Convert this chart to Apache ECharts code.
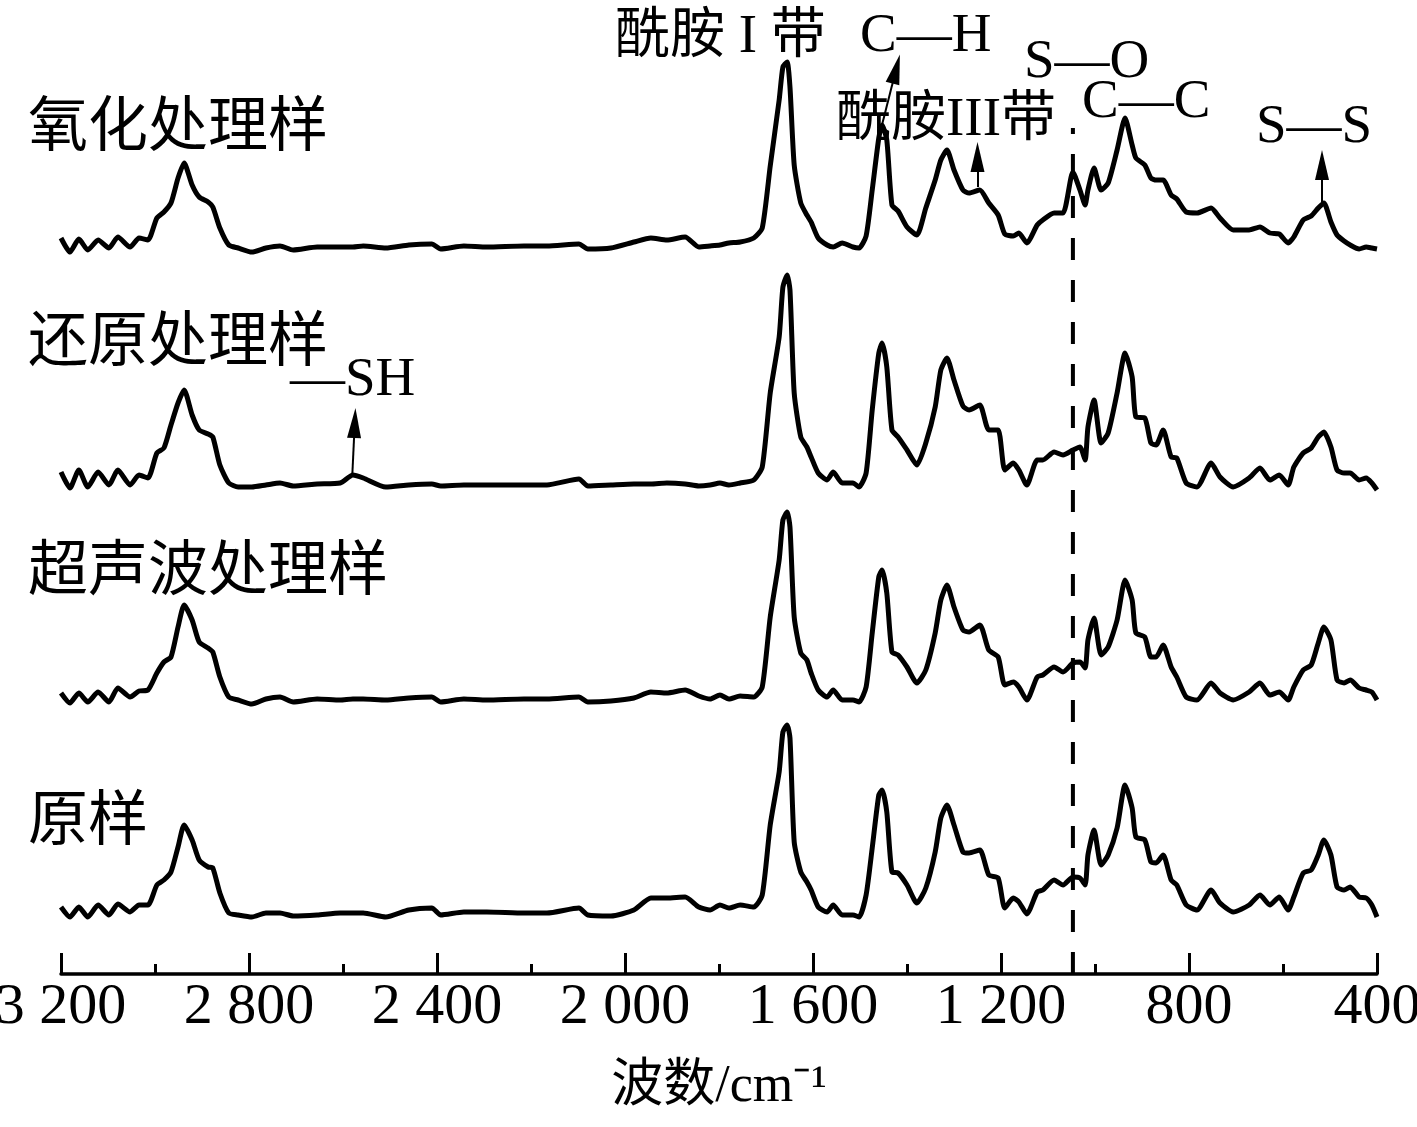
<!DOCTYPE html>
<html>
<head>
<meta charset="utf-8">
<title>拉曼光谱</title>
<script src="https://cdn.jsdelivr.net/npm/echarts@6/dist/echarts.min.js"></script>
<style>
  html, body { margin: 0; padding: 0; background: #fff; }
  #main { width: 1417px; height: 1127px; }
</style>
</head>
<body>
<div id="main"></div>
<script>
// 波数 (cm-1), shared by all four spectra
var waveNumbers = [
  3200, 3181, 3162, 3143, 3121, 3098, 3079, 3053, 3034, 3015,
  2996, 2981, 2966, 2951, 2938, 2921, 2906, 2887, 2877, 2862,
  2843, 2823, 2794, 2764, 2734, 2706, 2655, 2606, 2579, 2557,
  2509, 2460, 2411, 2392, 2343, 2294, 2215, 2166, 2098, 2079,
  2030, 1981, 1945, 1911, 1872, 1843, 1819, 1798, 1779, 1755,
  1726, 1708,
  1691, 1672, 1664, 1655, 1649, 1640, 1626, 1613, 1604, 1589,
  1570, 1557, 1538, 1515, 1502, 1487, 1474, 1460, 1453, 1443,
  1432, 1419, 1400, 1379, 1360, 1340, 1328, 1315, 1300, 1281,
  1268, 1245, 1226, 1206, 1192, 1174, 1162, 1145, 1123, 1111,
  1087, 1068, 1047, 1032, 1021, 1015, 1002, 987, 972, 953,
  936, 921, 913, 894, 881, 870, 855, 838, 826, 806,
  783, 753, 734, 706, 672, 649, 628, 608, 589, 577,
  557, 540, 525, 513, 498, 485, 470, 457, 438, 423,
  411, 400
];

// 强度 (a.u.), each relative to its own baseline
var oxidized = [
  10, -4, 9, -2, 8, 0, 11, 1, 10, 8,
  30, 36, 45, 70, 85, 63, 51, 46, 41, 20,
  3, 0, -4, 0, 2, -2, 1, 1, 1, 2,
  0, 3, 4, -1, 2, 1, 2, 2, 4, -1,
  0, 6, 10, 8, 11, 1, 2, 3, 5, 6,
  10, 20,
  82, 148, 181, 186, 161, 83, 45, 33, 26, 10,
  3, 1, 5, 1, 0, 12, 58, 110, 123, 108,
  43, 37, 21, 13, 40, 68, 88, 98, 78, 58,
  55, 58, 45, 33, 14, 12, 15, 5, 23, 28,
  35, 35, 76, 58, 43, 58, 80, 58, 65, 98,
  130, 103, 90, 83, 70, 68, 68, 53, 49, 36,
  35, 40, 30, 18, 18, 21, 15, 14, 5, 11,
  28, 32, 40, 45, 26, 13, 7, 3, -1, 1,
  0, -1
];
var reduced = [
  15, -1, 17, 0, 15, 2, 17, 2, 12, 9,
  34, 39, 62, 84, 97, 72, 57, 53, 50, 22,
  4, 0, 0, 2, 4, 1, 3, 4, 12, 9,
  0, 2, 3, 1, 2, 2, 2, 2, 8, 1,
  2, 3, 3, 4, 3, 1, 2, 4, 2, 4,
  7, 20,
  94, 150, 200, 212, 197, 94, 50, 40, 30, 14,
  7, 15, 4, 4, 0, 14, 77, 134, 144, 120,
  57, 50, 37, 22, 44, 80, 117, 129, 107, 81,
  77, 82, 57, 57, 17, 24, 17, 2, 27, 27,
  35, 32, 37, 40, 27, 60, 87, 44, 54, 94,
  134, 110, 70, 69, 44, 42, 57, 30, 29, 4,
  0, 24, 10, 0, 9, 19, 7, 12, 2, 20,
  34, 39, 50, 55, 40, 17, 14, 14, 7, 9,
  4, -3
];
var ultrasonic = [
  7, -3, 7, -2, 8, -2, 12, 3, 9, 10,
  27, 38, 43, 73, 95, 80, 58, 52, 48, 23,
  3, 0, -4, 1, 3, -2, 1, 0, 1, 1,
  0, 2, 3, -2, 1, 0, 1, 1, 3, -2,
  -1, 2, 8, 7, 10, 4, 1, 5, 1, 4,
  3, 13,
  83, 140, 180, 188, 173, 83, 47, 40, 27, 10,
  3, 10, 0, 0, -2, 13, 67, 123, 130, 107,
  48, 45, 33, 17, 30, 67, 100, 115, 93, 70,
  68, 75, 50, 43, 15, 18, 13, 0, 23, 25,
  33, 28, 37, 38, 32, 60, 82, 45, 53, 80,
  120, 100, 67, 63, 43, 43, 55, 33, 23, 3,
  0, 17, 7, 0, 8, 17, 5, 8, 0, 13,
  30, 35, 57, 73, 60, 20, 17, 20, 12, 10,
  8, 0
];
var raw = [
  8, -2, 8, -2, 10, 0, 11, 3, 10, 10,
  30, 35, 43, 68, 90, 75, 55, 48, 47, 22,
  2, 0, -2, 2, 2, -1, 0, 2, 2, 2,
  -2, 5, 7, 0, 3, 3, 2, 2, 7, 0,
  -1, 5, 17, 17, 18, 8, 5, 10, 7, 10,
  8, 20,
  90, 143, 183, 190, 177, 73, 43, 33, 25, 8,
  3, 10, 0, 0, -2, 20, 67, 120, 125, 103,
  43, 42, 30, 12, 27, 63, 97, 110, 90, 63,
  62, 65, 40, 37, 7, 17, 13, 1, 23, 25,
  35, 30, 38, 37, 30, 60, 85, 50, 60, 87,
  130, 107, 78, 75, 53, 52, 60, 35, 30, 10,
  5, 25, 12, 3, 10, 20, 10, 18, 5, 18,
  42, 45, 60, 75, 60, 28, 25, 28, 18, 17,
  10, -2
];

var sampleNames = ["氧化处理样", "还原处理样", "超声波处理样", "原样"];
var offsets = [726, 487, 274, 59];
var xTicks = [3200, 2800, 2400, 2000, 1600, 1200, 800, 400];

var serif = "'Liberation Serif', 'Noto Sans CJK SC', serif";

function stack(values, offset) {
  return waveNumbers.map(function(w, i) {
    return [w, values[i] + offset];
  });
}

function fmt(v) {
  var s = String(v);
  return s.length > 3 ? s.slice(0, s.length - 3) + " " + s.slice(-3) : s;
}

function arrow(from, to) {
  return [{ coord: from }, { coord: to }];
}

function label(text, x, y, size) {
  return {
    type: "text",
    x: x,
    y: y,
    style: {
      text: text,
      fontSize: size,
      fontFamily: serif,
      fill: "#000",
      align: "left",
      verticalAlign: "middle"
    }
  };
}

var myChart = echarts.init(document.getElementById("main"));

var spectra = [oxidized, reduced, ultrasonic, raw].map(function(vals, k) {
  return {
    name: sampleNames[k],
    type: "line",
    data: stack(vals, offsets[k]),
    showSymbol: false,
    symbol: "none",
    smooth: 0.2,
    lineStyle: { color: "#000", width: 5, join: "round" },
    z: 3
  };
});

myChart.setOption({
  animation: false,
  backgroundColor: "#fff",
  grid: {
    left: 61,
    right: 40,
    top: 53,
    bottom: 153,
    containLabel: false,
    outerBoundsMode: "none"
  },
  xAxis: {
    type: "value",
    inverse: true,
    min: 400,
    max: 3200,
    interval: 400,
    name: "波数/cm⁻¹",
    nameLocation: "middle",
    nameGap: 87,
    nameTextStyle: { fontSize: 52, fontFamily: serif, color: "#000" },
    axisLine: { lineStyle: { color: "#000", width: 3.5 } },
    axisTick: { inside: true, length: 21, lineStyle: { color: "#000", width: 3 } },
    minorTick: { show: true, splitNumber: 2, length: 10, lineStyle: { color: "#000", width: 3 } },
    splitLine: { show: false },
    axisLabel: {
      margin: 5,
      fontSize: 58,
      fontFamily: serif,
      color: "#000",
      formatter: function(v) {
        return xTicks.indexOf(v) >= 0 ? fmt(v) : "";
      }
    }
  },
  yAxis: {
    type: "value",
    min: 0,
    max: 921,
    show: false
  },
  series: spectra.concat([
    {
      name: "S—O",
      type: "line",
      data: [[1047, 0], [1047, 846]],
      showSymbol: false,
      symbol: "none",
      lineStyle: { color: "#000", width: 4, type: [22, 20] },
      z: 2
    },
    {
      name: "arrows",
      type: "line",
      data: [],
      markLine: {
        silent: true,
        symbol: ["none", "triangle"],
        symbolSize: [14, 30],
        label: { show: false },
        lineStyle: { color: "#000", width: 2, type: "solid" },
        data: [
          arrow([1457, 842], [1423, 905]),
          arrow([1250, 787], [1250, 817]),
          arrow([517, 772], [517, 809]),
          arrow([2580, 501], [2575, 551])
        ]
      }
    }
  ]),
  graphic: [
    label(sampleNames[0], 28, 130, 60),
    label(sampleNames[1], 28, 345, 60),
    label(sampleNames[2], 28, 574, 60),
    label(sampleNames[3], 28, 824, 60),
    label("酰胺 I 带", 615, 38, 55),
    label("C—H", 860, 37, 55),
    label("酰胺III带", 836, 121, 55),
    label("S—O", 1024, 63, 55),
    label("C—C", 1082, 103, 55),
    label("S—S", 1256, 128, 55),
    label("—SH", 290, 381, 55)
  ]
});
</script>
</body>
</html>
